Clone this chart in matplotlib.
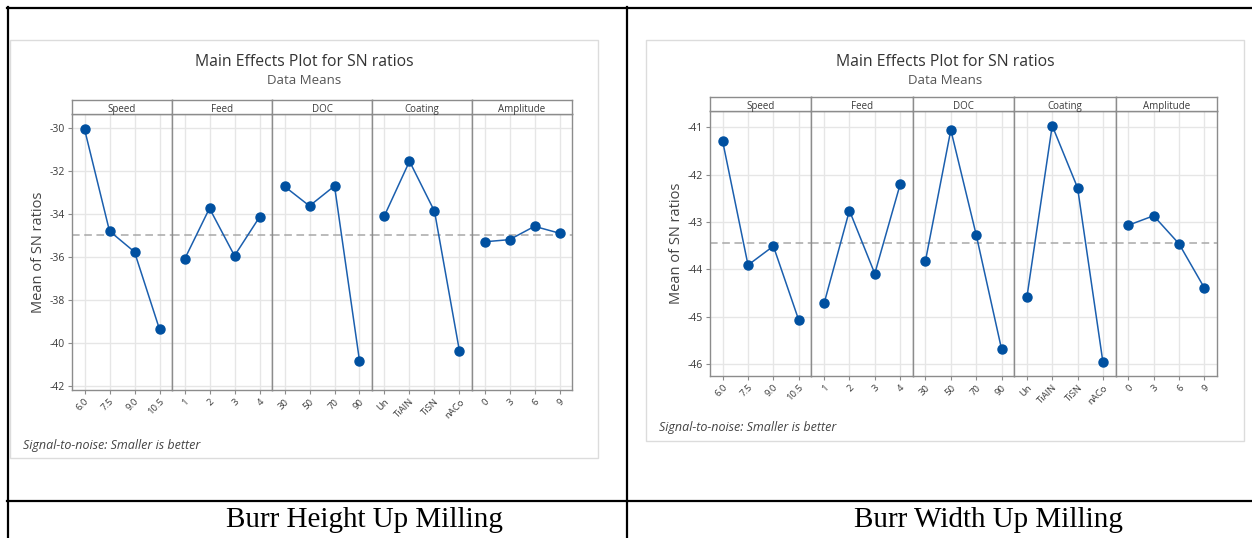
import numpy as np
import matplotlib
matplotlib.use("Agg")
import matplotlib.pyplot as plt
from matplotlib.patches import Rectangle
from matplotlib.lines import Line2D

plt.rcParams['font.family'] = ['Open Sans', 'DejaVu Sans']

# factors and levels (shared by both charts)
factors = ["Speed", "Feed", "DOC", "Coating", "Amplitude"]
levels = [["6.0", "7.5", "9.0", "10.5"],
          ["1", "2", "3", "4"],
          ["30", "50", "70", "90"],
          ["Un", "TiAlN", "TiSN", "nACo"],
          ["0", "3", "6", "9"]]

# burr height, up milling
height_sn = [[-30.05, -34.8, -35.77, -39.37],
             [-36.12, -33.74, -35.95, -34.15],
             [-32.72, -33.63, -32.7, -40.84],
             [-34.08, -31.55, -33.88, -40.4],
             [-35.3, -35.2, -34.58, -34.9]]
height_mean = -34.97
height_ticks = [-30, -32, -34, -36, -38, -40, -42]
height_ylim = (-42.2, -29.35)

# burr width, up milling
width_sn = [[-41.3, -43.91, -43.51, -45.07],
            [-44.72, -42.76, -44.09, -42.21],
            [-43.82, -41.06, -43.27, -45.68],
            [-44.59, -40.97, -42.28, -45.96],
            [-43.07, -42.87, -43.46, -44.39]]
width_mean = -43.45
width_ticks = [-41, -42, -43, -44, -45, -46]
width_ylim = (-46.25, -40.66)

W, H = 1252, 538
fig = plt.figure(figsize=(W / 100, H / 100), dpi=100)

LINE = '#1B5FAE'
GRID = '#E6E6E6'
FRAME = '#8C8C8C'
TXT = '#3A3A3A'


def px_rect(x0, y0, x1, y1):
    # pixel box (top-left origin) -> figure fraction rect
    return [x0 / W, (H - y1) / H, (x1 - x0) / W, (y1 - y0) / H]


def main_effects(box, plot, data, mean, ticks, ylim, caption, cap_x):
    bx0, by0, bx1, by1 = box
    fig.patches.append(Rectangle((bx0 / W, 1 - by1 / H), (bx1 - bx0) / W, (by1 - by0) / H,
                                 transform=fig.transFigure, fill=False,
                                 edgecolor='#DCDCDC', lw=1))
    cx = (bx0 + bx1) / 2
    fig.text(cx / W, 1 - 62 / H, "Main Effects Plot for SN ratios", ha='center', va='center',
             fontsize=11.3, color='#333333')
    fig.text(cx / W, 1 - 81 / H, "Data Means", ha='center', va='center',
             fontsize=9.5, color='#555555')
    fig.text((bx0 + 13) / W, 1 - (by1 - 13) / H, "Signal-to-noise: Smaller is better",
             ha='left', va='center', fontsize=9, color='#444444', style='italic')

    x0, strip_top, x1, y_top, y_bot = plot
    pw = (x1 - x0) / len(factors)
    for i, name in enumerate(factors):
        ax = fig.add_axes(px_rect(x0 + i * pw, y_top, x0 + (i + 1) * pw, y_bot))
        vals = data[i]
        xs = np.arange(len(vals))
        ax.set_xlim(-0.5, len(vals) - 0.5)
        ax.set_ylim(*ylim)
        ax.set_yticks(ticks)
        ax.set_xticks(xs)
        ax.set_xticklabels(levels[i], rotation=45, ha='right', rotation_mode='anchor',
                           fontsize=6.8, color=TXT)
        ax.grid(True, color=GRID, lw=1)
        ax.set_axisbelow(True)
        ax.axhline(mean, color='#A8A8A8', ls=(0, (5, 3)), lw=1.1, zorder=1)
        ax.plot(xs, vals, color=LINE, lw=1.1, marker='o', ms=6.5,
                mfc='#0050A0', mec='#0050A0', zorder=3)
        for s in ax.spines.values():
            s.set_color(FRAME)
            s.set_linewidth(1)
        ax.tick_params(axis='x', length=3, color=FRAME, pad=2)
        if i == 0:
            ax.set_yticklabels([str(t) for t in ticks], fontsize=7.5, color=TXT)
            ax.tick_params(axis='y', length=3, color=FRAME, pad=2)
            ax.set_ylabel("Mean of SN ratios", fontsize=10.5, color='#444444', labelpad=3)
        else:
            ax.tick_params(axis='y', length=0, labelleft=False)
        sax = fig.add_axes(px_rect(x0 + i * pw, strip_top, x0 + (i + 1) * pw, y_top))
        sax.set_xticks([])
        sax.set_yticks([])
        for s in sax.spines.values():
            s.set_color(FRAME)
            s.set_linewidth(1)
        sax.text(0.5, 0.35, name, transform=sax.transAxes, ha='center', va='center',
                 fontsize=7, color=TXT)

    fig.text(cap_x / W, 1 - 520 / H, caption, ha='center', va='center',
             fontsize=21, family=['Liberation Serif', 'DejaVu Serif'], color='black')


main_effects((10, 40, 598, 458), (72, 100, 572, 114, 390), height_sn, height_mean,
             height_ticks, height_ylim, "Burr Height Up Milling", 364)
main_effects((646, 40, 1244, 441), (710, 97, 1217, 111, 376), width_sn, width_mean,
             width_ticks, width_ylim, "Burr Width Up Milling", 988)

# table rules around the two cells
for (xa, ya, xb, yb) in [(7, 7.5, 1252, 7.5), (7.5, 7, 7.5, 538), (627, 7, 627, 538),
                         (7, 501, 1252, 501)]:
    fig.add_artist(Line2D([xa / W, xb / W], [1 - ya / H, 1 - yb / H],
                          transform=fig.transFigure, color='black', lw=1.6))

fig.savefig("out.png", dpi=100)
